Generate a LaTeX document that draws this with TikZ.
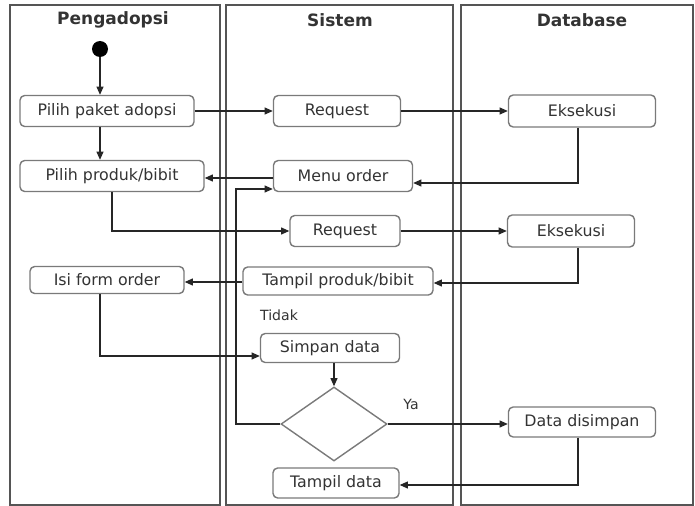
\documentclass[tikz,border=0pt]{standalone}
\usepackage{fontspec}
\setmainfont{DejaVu Sans}
\usepackage{tikz}
\usepackage{xcolor}
\usetikzlibrary{positioning,arrows.meta,shapes.geometric,calc}

\definecolor{lanegray}{HTML}{555555}
\definecolor{boxgray}{HTML}{7A7A7A}
\definecolor{txtgray}{HTML}{333333}
\newdimen\pxu \pxu=0.8536pt

\begin{document}
\begin{tikzpicture}[x=0.03cm,y=-0.03cm,
    lane/.style={draw=lanegray,line width=1.1pt},
    act/.style={draw=boxgray,line width=1.2pt,rounded corners=4pt,fill=white,
        text=txtgray,font=\fontsize{13.5}{16}\selectfont,inner sep=0pt},
    head/.style={text=txtgray,font=\fontsize{14.5}{17}\selectfont\bfseries},
    lbl/.style={text=txtgray,font=\fontsize{12}{14}\selectfont},
    flow/.style={draw=black!85,line width=0.9pt,-{Triangle[length=7pt,width=6pt]}}]
    \useasboundingbox (0,0) rectangle (695,506);

    % Swimlanes
    \draw[lane] (10,5) rectangle (220,505);
    \draw[lane] (226,5) rectangle (453,505);
    \draw[lane] (461,5) rectangle (693,505);
    \node[head] (hpeng) at (113,20) {Pengadopsi};
    \node[head] (hsis) at (340,20) {Sistem};
    \node[head] (hdb) at (582,20) {Database};

    % Pengadopsi
    \node[circle,fill=black,inner sep=0pt,minimum size=16\pxu] (start) at (100,49) {};
    \node[act,minimum width=174\pxu,minimum height=31\pxu] (paket) at (107,111) {Pilih paket adopsi};
    \node[act,minimum width=184\pxu,minimum height=31\pxu] (produk) at (112,176) {Pilih produk/bibit};
    \node[act,minimum width=154\pxu,minimum height=27\pxu] (isi) at (107,280) {Isi form order};

    % Sistem
    \node[act,minimum width=127\pxu,minimum height=31\pxu] (req1) at (337,111) {Request};
    \node[act,minimum width=139\pxu,minimum height=31\pxu] (menu) at (343,176) {Menu order};
    \node[act,minimum width=110\pxu,minimum height=31\pxu] (req2) at (345,231) {Request};
    \node[act,minimum width=190\pxu,minimum height=28\pxu] (tampilprod) at (338,281) {Tampil produk/bibit};
    \node[act,minimum width=139\pxu,minimum height=29\pxu] (simpan) at (330,348) {Simpan data};
    \node[diamond,draw=boxgray,line width=1.2pt,minimum width=106\pxu,minimum height=74\pxu,
        inner sep=0pt] (dec) at (334,424) {};
    \node[act,minimum width=126\pxu,minimum height=30\pxu] (tampildata) at (336,483) {Tampil data};
    \node[lbl] (tidak) at (279,315) {Tidak};
    \node[lbl] (ya) at (411,404) {Ya};

    % Database
    \node[act,minimum width=147\pxu,minimum height=32\pxu] (eks1) at (582,111) {Eksekusi};
    \node[act,minimum width=127\pxu,minimum height=32\pxu] (eks2) at (571,231) {Eksekusi};
    \node[act,minimum width=147\pxu,minimum height=30\pxu] (disimpan) at (582,422) {Data disimpan};

    % Alur
    \coordinate (loop) at (236,189);
    \coordinate (dbx) at ($(eks1.south)+(-4,0)$);
    \draw[flow] (start) -- (start |- paket.north);
    \draw[flow] (start |- paket.south) -- (start |- produk.north);
    \draw[flow] (paket) -- (req1);
    \draw[flow] (req1) -- (eks1);
    \draw[flow] (dbx) |- ($(menu.east)+(0,7)$);
    \draw[flow] ($(menu.west)+(0,2)$) -- ($(produk.east)+(0,2)$);
    \draw[flow] (produk.south) |- (req2);
    \draw[flow] (req2) -- (eks2);
    \draw[flow] (dbx |- eks2.south) |- ($(tampilprod.east)+(0,2)$);
    \draw[flow] ($(tampilprod.west)+(0,1)$) -- ($(isi.east)+(0,2)$);
    \draw[flow] (start |- isi.south) |- ($(simpan.west)+(0,8)$);
    \draw[flow] (simpan.south -| dec.north) -- (dec.north);
    \draw[flow] (dec.west) -| (loop) -- (loop -| menu.west);
    \draw[flow] (dec.east) -- (dec.east -| disimpan.west);
    \draw[flow] (dbx |- disimpan.south) |- ($(tampildata.east)+(0,2)$);
\end{tikzpicture}
\end{document}
